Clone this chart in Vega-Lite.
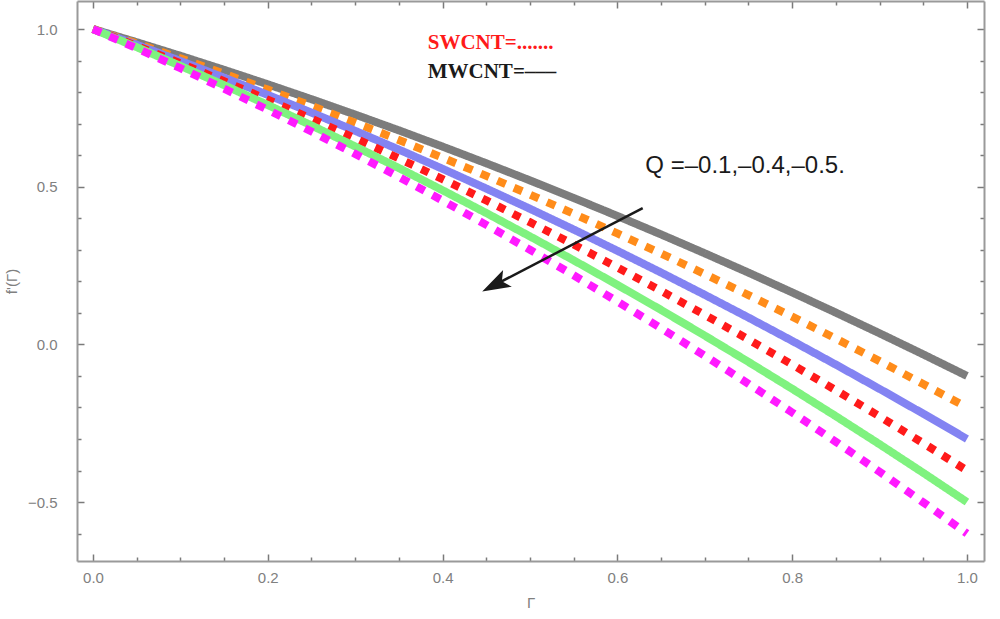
{
  "$schema": "https://vega.github.io/schema/vega-lite/v6.json",
  "width": 907,
  "height": 560,
  "autosize": "none",
  "padding": {"left": 77, "top": 1, "right": 16, "bottom": 58},
  "background": "white",
  "config": {
    "view": {"stroke": null},
    "axis": {
      "grid": false,
      "domainColor": "#9a9a9a",
      "domainWidth": 2,
      "tickColor": "#7a7a7a",
      "tickWidth": 1.5,
      "labelColor": "#808080",
      "labelFont": "Liberation Sans",
      "labelFontSize": 15,
      "titleColor": "#808080",
      "titleFont": "Liberation Sans",
      "titleFontSize": 15,
      "titleFontWeight": "normal"
    }
  },
  "datasets": {
    "curves": [
      {"s": "k", "x": 0, "y": 1}, {"s": "k", "x": 0.05, "y": 0.9583}, {"s": "k", "x": 0.1, "y": 0.9152}, {"s": "k", "x": 0.15, "y": 0.8707}, {"s": "k", "x": 0.2, "y": 0.8248}, {"s": "k", "x": 0.25, "y": 0.7775}, {"s": "k", "x": 0.3, "y": 0.7288}, {"s": "k", "x": 0.35, "y": 0.6787}, {"s": "k", "x": 0.4, "y": 0.6272}, {"s": "k", "x": 0.45, "y": 0.5743}, {"s": "k", "x": 0.5, "y": 0.52}, {"s": "k", "x": 0.55, "y": 0.4643}, {"s": "k", "x": 0.6, "y": 0.4072}, {"s": "k", "x": 0.65, "y": 0.3487}, {"s": "k", "x": 0.7, "y": 0.2888}, {"s": "k", "x": 0.75, "y": 0.2275}, {"s": "k", "x": 0.8, "y": 0.1648}, {"s": "k", "x": 0.85, "y": 0.1007}, {"s": "k", "x": 0.9, "y": 0.0352}, {"s": "k", "x": 0.95, "y": -0.0317}, {"s": "k", "x": 1, "y": -0.1},
      {"s": "o", "x": 0, "y": 1}, {"s": "o", "x": 0.05, "y": 0.9543}, {"s": "o", "x": 0.1, "y": 0.907}, {"s": "o", "x": 0.15, "y": 0.8583}, {"s": "o", "x": 0.2, "y": 0.808}, {"s": "o", "x": 0.25, "y": 0.7563}, {"s": "o", "x": 0.3, "y": 0.703}, {"s": "o", "x": 0.35, "y": 0.6483}, {"s": "o", "x": 0.4, "y": 0.592}, {"s": "o", "x": 0.45, "y": 0.5343}, {"s": "o", "x": 0.5, "y": 0.475}, {"s": "o", "x": 0.55, "y": 0.4143}, {"s": "o", "x": 0.6, "y": 0.352}, {"s": "o", "x": 0.65, "y": 0.2883}, {"s": "o", "x": 0.7, "y": 0.223}, {"s": "o", "x": 0.75, "y": 0.1563}, {"s": "o", "x": 0.8, "y": 0.088}, {"s": "o", "x": 0.85, "y": 0.0183}, {"s": "o", "x": 0.9, "y": -0.053}, {"s": "o", "x": 0.95, "y": -0.1258}, {"s": "o", "x": 1, "y": -0.2},
      {"s": "b", "x": 0, "y": 1}, {"s": "b", "x": 0.05, "y": 0.9502}, {"s": "b", "x": 0.1, "y": 0.8988}, {"s": "b", "x": 0.15, "y": 0.8458}, {"s": "b", "x": 0.2, "y": 0.7912}, {"s": "b", "x": 0.25, "y": 0.735}, {"s": "b", "x": 0.3, "y": 0.6772}, {"s": "b", "x": 0.35, "y": 0.6178}, {"s": "b", "x": 0.4, "y": 0.5568}, {"s": "b", "x": 0.45, "y": 0.4942}, {"s": "b", "x": 0.5, "y": 0.43}, {"s": "b", "x": 0.55, "y": 0.3642}, {"s": "b", "x": 0.6, "y": 0.2968}, {"s": "b", "x": 0.65, "y": 0.2278}, {"s": "b", "x": 0.7, "y": 0.1572}, {"s": "b", "x": 0.75, "y": 0.085}, {"s": "b", "x": 0.8, "y": 0.0112}, {"s": "b", "x": 0.85, "y": -0.0642}, {"s": "b", "x": 0.9, "y": -0.1412}, {"s": "b", "x": 0.95, "y": -0.2198}, {"s": "b", "x": 1, "y": -0.3},
      {"s": "r", "x": 0, "y": 1}, {"s": "r", "x": 0.05, "y": 0.9466}, {"s": "r", "x": 0.1, "y": 0.8915}, {"s": "r", "x": 0.15, "y": 0.8346}, {"s": "r", "x": 0.2, "y": 0.776}, {"s": "r", "x": 0.25, "y": 0.7156}, {"s": "r", "x": 0.3, "y": 0.6535}, {"s": "r", "x": 0.35, "y": 0.5896}, {"s": "r", "x": 0.4, "y": 0.524}, {"s": "r", "x": 0.45, "y": 0.4566}, {"s": "r", "x": 0.5, "y": 0.3875}, {"s": "r", "x": 0.55, "y": 0.3166}, {"s": "r", "x": 0.6, "y": 0.244}, {"s": "r", "x": 0.65, "y": 0.1696}, {"s": "r", "x": 0.7, "y": 0.0935}, {"s": "r", "x": 0.75, "y": 0.0156}, {"s": "r", "x": 0.8, "y": -0.064}, {"s": "r", "x": 0.85, "y": -0.1454}, {"s": "r", "x": 0.9, "y": -0.2285}, {"s": "r", "x": 0.95, "y": -0.3134}, {"s": "r", "x": 1, "y": -0.4},
      {"s": "g", "x": 0, "y": 1}, {"s": "g", "x": 0.05, "y": 0.9426}, {"s": "g", "x": 0.1, "y": 0.8833}, {"s": "g", "x": 0.15, "y": 0.8222}, {"s": "g", "x": 0.2, "y": 0.7592}, {"s": "g", "x": 0.25, "y": 0.6944}, {"s": "g", "x": 0.3, "y": 0.6277}, {"s": "g", "x": 0.35, "y": 0.5592}, {"s": "g", "x": 0.4, "y": 0.4888}, {"s": "g", "x": 0.45, "y": 0.4166}, {"s": "g", "x": 0.5, "y": 0.3425}, {"s": "g", "x": 0.55, "y": 0.2666}, {"s": "g", "x": 0.6, "y": 0.1888}, {"s": "g", "x": 0.65, "y": 0.1092}, {"s": "g", "x": 0.7, "y": 0.0277}, {"s": "g", "x": 0.75, "y": -0.0556}, {"s": "g", "x": 0.8, "y": -0.1408}, {"s": "g", "x": 0.85, "y": -0.2278}, {"s": "g", "x": 0.9, "y": -0.3167}, {"s": "g", "x": 0.95, "y": -0.4074}, {"s": "g", "x": 1, "y": -0.5},
      {"s": "m", "x": 0, "y": 1}, {"s": "m", "x": 0.05, "y": 0.939}, {"s": "m", "x": 0.1, "y": 0.876}, {"s": "m", "x": 0.15, "y": 0.811}, {"s": "m", "x": 0.2, "y": 0.744}, {"s": "m", "x": 0.25, "y": 0.675}, {"s": "m", "x": 0.3, "y": 0.604}, {"s": "m", "x": 0.35, "y": 0.531}, {"s": "m", "x": 0.4, "y": 0.456}, {"s": "m", "x": 0.45, "y": 0.379}, {"s": "m", "x": 0.5, "y": 0.3}, {"s": "m", "x": 0.55, "y": 0.219}, {"s": "m", "x": 0.6, "y": 0.136}, {"s": "m", "x": 0.65, "y": 0.051}, {"s": "m", "x": 0.7, "y": -0.036}, {"s": "m", "x": 0.75, "y": -0.125}, {"s": "m", "x": 0.8, "y": -0.216}, {"s": "m", "x": 0.85, "y": -0.309}, {"s": "m", "x": 0.9, "y": -0.404}, {"s": "m", "x": 0.95, "y": -0.501}, {"s": "m", "x": 1, "y": -0.6}
    ],
    "notes": [
      {"id": "sw", "x": 0.383, "y": 0.937, "t": "SWCNT=......."},
      {"id": "mw", "x": 0.383, "y": 0.845, "t": "MWCNT=–––"},
      {"id": "q", "x": 0.632, "y": 0.543, "t": "Q =–0.1,–0.4,–0.5."}
    ],
    "arrow": [
      {"o": 0, "x": 0.629, "y": 0.432},
      {"o": 1, "x": 0.4614, "y": 0.191}
    ]
  },
  "layer": [
    {
      "data": {"name": "curves"},
      "mark": {"type": "line", "strokeCap": "butt"},
      "encoding": {
        "x": {
          "field": "x", "type": "quantitative",
          "scale": {"domain": [-0.0183, 1.0195], "nice": false, "zero": false},
          "axis": {
            "orient": "bottom",
            "values": [0, 0.05, 0.1, 0.15, 0.2, 0.25, 0.3, 0.35, 0.4, 0.45, 0.5, 0.55, 0.6, 0.65, 0.7, 0.75, 0.8, 0.85, 0.9, 0.95, 1],
            "labelExpr": "abs(round(datum.value*5)-datum.value*5)<0.001 ? format(datum.value,'.1f') : ''",
            "tickSize": {"condition": {"test": "abs(round(datum.value*5)-datum.value*5)<0.001", "value": -7}, "value": -4},
            "labelPadding": 16,
            "title": "Γ",
            "titlePadding": 10
          }
        },
        "y": {
          "field": "y", "type": "quantitative",
          "scale": {"domain": [-0.687, 1.089], "nice": false, "zero": false},
          "axis": {
            "orient": "left",
            "values": [-0.6, -0.5, -0.4, -0.3, -0.2, -0.1, 0, 0.1, 0.2, 0.3, 0.4, 0.5, 0.6, 0.7, 0.8, 0.9, 1],
            "labelExpr": "abs(round(datum.value*2)-datum.value*2)<0.001 ? format(datum.value,'.1f') : ''",
            "tickSize": {"condition": {"test": "abs(round(datum.value*2)-datum.value*2)<0.001", "value": -7}, "value": -4},
            "labelPadding": 27,
            "title": "f'(Γ)",
            "titlePadding": 8
          }
        },
        "color": {
          "field": "s", "type": "nominal", "legend": null,
          "scale": {"domain": ["k", "o", "b", "r", "g", "m"], "range": ["#7c7c7c", "#ff8c1a", "#8383f2", "#ff1a1a", "#7ff27f", "#ff1aff"]}
        },
        "strokeDash": {
          "field": "s", "type": "nominal", "legend": null,
          "scale": {"domain": ["k", "o", "b", "r", "g", "m"], "range": [[1, 0], [9, 9], [1, 0], [8, 9], [1, 0], [9, 9]]}
        },
        "strokeWidth": {
          "field": "s", "type": "nominal", "legend": null,
          "scale": {"domain": ["k", "o", "b", "r", "g", "m"], "range": [8, 8, 8, 7, 6, 8]}
        }
      }
    },
    {
      "data": {"name": "notes"},
      "transform": [{"filter": "datum.id === 'sw'"}],
      "mark": {"type": "text", "align": "left", "baseline": "alphabetic", "font": "Liberation Serif", "fontWeight": "bold", "fontSize": 21, "color": "#ff1a1a"},
      "encoding": {
        "x": {
          "field": "x", "type": "quantitative",
          "scale": {"domain": [-0.0183, 1.0195], "nice": false, "zero": false},
          "axis": {
            "orient": "top",
            "values": [0, 0.05, 0.1, 0.15, 0.2, 0.25, 0.3, 0.35, 0.4, 0.45, 0.5, 0.55, 0.6, 0.65, 0.7, 0.75, 0.8, 0.85, 0.9, 0.95, 1],
            "labels": false,
            "tickSize": {"condition": {"test": "abs(round(datum.value*5)-datum.value*5)<0.001", "value": -7}, "value": -4},
            "title": null
          }
        },
        "y": {
          "field": "y", "type": "quantitative",
          "scale": {"domain": [-0.687, 1.089], "nice": false, "zero": false},
          "axis": {
            "orient": "right",
            "values": [-0.6, -0.5, -0.4, -0.3, -0.2, -0.1, 0, 0.1, 0.2, 0.3, 0.4, 0.5, 0.6, 0.7, 0.8, 0.9, 1],
            "labels": false,
            "tickSize": {"condition": {"test": "abs(round(datum.value*2)-datum.value*2)<0.001", "value": -7}, "value": -4},
            "title": null
          }
        },
        "text": {"field": "t"}
      }
    },
    {
      "data": {"name": "notes"},
      "transform": [{"filter": "datum.id === 'mw'"}],
      "mark": {"type": "text", "align": "left", "baseline": "alphabetic", "font": "Liberation Serif", "fontWeight": "bold", "fontSize": 21, "color": "#1a1a1a"},
      "encoding": {
        "x": {"field": "x", "type": "quantitative", "axis": null},
        "y": {"field": "y", "type": "quantitative", "axis": null},
        "text": {"field": "t"}
      }
    },
    {
      "data": {"name": "notes"},
      "transform": [{"filter": "datum.id === 'q'"}],
      "mark": {"type": "text", "align": "left", "baseline": "alphabetic", "font": "Liberation Sans", "fontSize": 24, "color": "#1a1a1a"},
      "encoding": {
        "x": {"field": "x", "type": "quantitative", "axis": null},
        "y": {"field": "y", "type": "quantitative", "axis": null},
        "text": {"field": "t"}
      }
    },
    {
      "data": {"name": "arrow"},
      "mark": {"type": "line", "color": "#1a1a1a", "strokeWidth": 2.5},
      "encoding": {
        "x": {"field": "x", "type": "quantitative", "axis": null},
        "y": {"field": "y", "type": "quantitative", "axis": null},
        "order": {"field": "o"}
      }
    },
    {
      "data": {"name": "arrow"},
      "transform": [{"filter": "datum.o === 1"}],
      "mark": {"type": "point", "shape": "M0,-1L0.6,0.8L0,0.4L-0.6,0.8Z", "filled": true, "color": "#1a1a1a", "opacity": 1, "size": 1000, "angle": 242.6},
      "encoding": {
        "x": {"field": "x", "type": "quantitative", "axis": null},
        "y": {"field": "y", "type": "quantitative", "axis": null}
      }
    }
  ],
  "resolve": {"axis": {"x": "independent", "y": "independent"}}
}
